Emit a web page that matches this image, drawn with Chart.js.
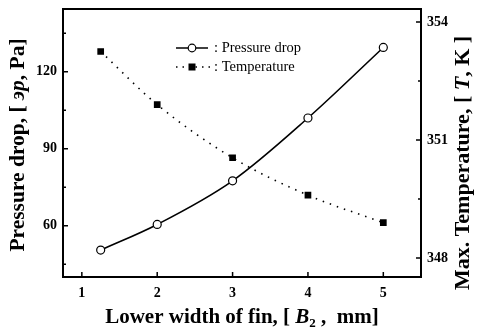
<!DOCTYPE html>
<html>
<head>
<meta charset="utf-8">
<script src="https://cdn.jsdelivr.net/npm/chart.js@4.4.1/dist/chart.umd.min.js"></script>
<style>
html, body { margin: 0; padding: 0; background: #fff; }
#wrap { width: 477px; height: 336px; }
</style>
</head>
<body>
<div id="wrap"><canvas id="chart" width="477" height="336"></canvas></div>
<script>
// data
const finWidth = [1.25, 2, 3, 4, 5];
const pressureDrop = [50.5, 60.5, 77.5, 102, 129.5];
const maxTemp = [353.25, 351.9, 350.55, 349.6, 348.9];

const xTicks = [1, 2, 3, 4, 5];
const pTicks = [60, 90, 120];
const pMinor = [45, 75, 105, 135];
const tTicks = [348, 351, 354];
const tMinor = [349.5, 352.5];

const serif = '"Liberation Serif", "Times New Roman", serif';

// axis titles with italic / subscript parts
const xTitle = [{ t: 'Lower width of fin, [ ' }, { t: 'B', i: true }, { t: '2', sub: true }, { t: ' ,  mm]' }];
const yTitle = [{ t: 'Pressure drop, [ ' }, { t: 'эp', i: true }, { t: ', Pa]' }];
const y1Title = [{ t: 'Max. Temperature, [ ' }, { t: 'T', i: true }, { t: ', K ]' }];

function segFont(s, size) {
  return (s.i ? 'italic ' : '') + 'bold ' + (s.sub ? 13 : size) + 'px ' + serif;
}

function drawRich(c, segs, cx, cy, rot, size) {
  c.save();
  c.translate(cx, cy);
  c.rotate(rot);
  let w = 0;
  segs.forEach(s => { c.font = segFont(s, size); w += c.measureText(s.t).width; });
  let x = -w / 2;
  c.fillStyle = '#000';
  c.textBaseline = 'middle';
  segs.forEach(s => {
    c.font = segFont(s, size);
    c.fillText(s.t, x, s.sub ? 6 : 0);
    x += c.measureText(s.t).width;
  });
  c.restore();
}

const frame = {
  id: 'frame',
  afterDraw(chart) {
    const c = chart.ctx, a = chart.chartArea;
    const { x, y, y1 } = chart.scales;
    c.save();
    c.strokeStyle = '#000';
    c.lineWidth = 2;
    c.strokeRect(a.left, a.top, a.right - a.left, a.bottom - a.top);
    // inward ticks
    c.lineWidth = 1.5;
    c.beginPath();
    xTicks.forEach(v => { const px = x.getPixelForValue(v); c.moveTo(px, a.bottom); c.lineTo(px, a.bottom - 5); });
    pTicks.forEach(v => { const py = y.getPixelForValue(v); c.moveTo(a.left, py); c.lineTo(a.left + 5, py); });
    pMinor.forEach(v => { const py = y.getPixelForValue(v); c.moveTo(a.left, py); c.lineTo(a.left + 3, py); });
    tTicks.forEach(v => { const py = y1.getPixelForValue(v); c.moveTo(a.right, py); c.lineTo(a.right - 5, py); });
    tMinor.forEach(v => { const py = y1.getPixelForValue(v); c.moveTo(a.right, py); c.lineTo(a.right - 3, py); });
    c.stroke();

    // titles
    const midY = (a.top + a.bottom) / 2;
    drawRich(c, xTitle, (a.left + a.right) / 2, 318, 0, 21);
    drawRich(c, yTitle, 18, midY + 2, -Math.PI / 2, 21.5);
    drawRich(c, y1Title, 463, midY + 20, -Math.PI / 2, 22);

    // legend inside the plot
    const lx = a.left + 113, ly = a.top + 39;
    c.fillStyle = '#000';
    c.font = '14.5px ' + serif;
    c.textBaseline = 'middle';
    c.lineWidth = 1.5;
    c.beginPath(); c.moveTo(lx, ly); c.lineTo(lx + 32, ly); c.stroke();
    c.beginPath(); c.arc(lx + 16, ly, 3.8, 0, Math.PI * 2);
    c.fillStyle = '#fff'; c.fill(); c.lineWidth = 1.2; c.stroke();
    c.fillStyle = '#000';
    c.fillText(': Pressure drop', lx + 38, ly);
    const ly2 = ly + 19;
    c.setLineDash([1.5, 5]); c.lineWidth = 1.5;
    c.beginPath(); c.moveTo(lx, ly2); c.lineTo(lx + 34, ly2); c.stroke();
    c.setLineDash([]);
    c.fillRect(lx + 12.5, ly2 - 3.5, 7, 7);
    c.fillText(': Temperature', lx + 38, ly2);
    c.restore();
  }
};

const noPad = s => { s.paddingTop = 0; s.paddingBottom = 0; s.paddingLeft = 0; s.paddingRight = 0; };

new Chart(document.getElementById('chart').getContext('2d'), {
  type: 'line',
  data: {
    datasets: [{
      label: 'Pressure drop',
      data: finWidth.map((v, i) => ({ x: v, y: pressureDrop[i] })),
      yAxisID: 'y',
      borderColor: '#000',
      borderWidth: 1.6,
      cubicInterpolationMode: 'monotone',
      pointStyle: 'circle',
      pointRadius: 4,
      pointBackgroundColor: '#fff',
      pointBorderColor: '#000',
      pointBorderWidth: 1.2
    }, {
      label: 'Temperature',
      data: finWidth.map((v, i) => ({ x: v, y: maxTemp[i] })),
      yAxisID: 'y1',
      borderColor: '#000',
      borderWidth: 1.6,
      borderDash: [1.5, 6],
      cubicInterpolationMode: 'monotone',
      pointStyle: 'rect',
      pointRadius: 3.6,
      pointBackgroundColor: '#000',
      pointBorderColor: '#000'
    }]
  },
  options: {
    responsive: false,
    animation: false,
    layout: { padding: { top: 9 } },
    plugins: { legend: { display: false }, tooltip: { enabled: false } },
    scales: {
      x: {
        type: 'linear',
        min: 0.75,
        max: 5.5,
        afterFit: s => { s.height = 59; noPad(s); },
        afterBuildTicks: s => { s.ticks = xTicks.map(v => ({ value: v })); },
        grid: { display: false, drawTicks: false },
        border: { display: false },
        ticks: { color: '#000', padding: 8, font: { family: serif, size: 14, weight: 'bold' } }
      },
      y: {
        position: 'left',
        min: 40,
        max: 144.5,
        afterFit: s => { s.width = 63; noPad(s); },
        afterBuildTicks: s => { s.ticks = pTicks.map(v => ({ value: v })); },
        grid: { display: false, drawTicks: false },
        border: { display: false },
        ticks: { color: '#000', padding: 6, font: { family: serif, size: 14, weight: 'bold' } }
      },
      y1: {
        position: 'right',
        min: 347.52,
        max: 354.33,
        afterFit: s => { s.width = 56; noPad(s); },
        afterBuildTicks: s => { s.ticks = tTicks.map(v => ({ value: v })); },
        grid: { display: false, drawTicks: false },
        border: { display: false },
        ticks: { color: '#000', padding: 6, font: { family: serif, size: 14, weight: 'bold' } }
      }
    }
  },
  plugins: [frame]
});
</script>
</body>
</html>
